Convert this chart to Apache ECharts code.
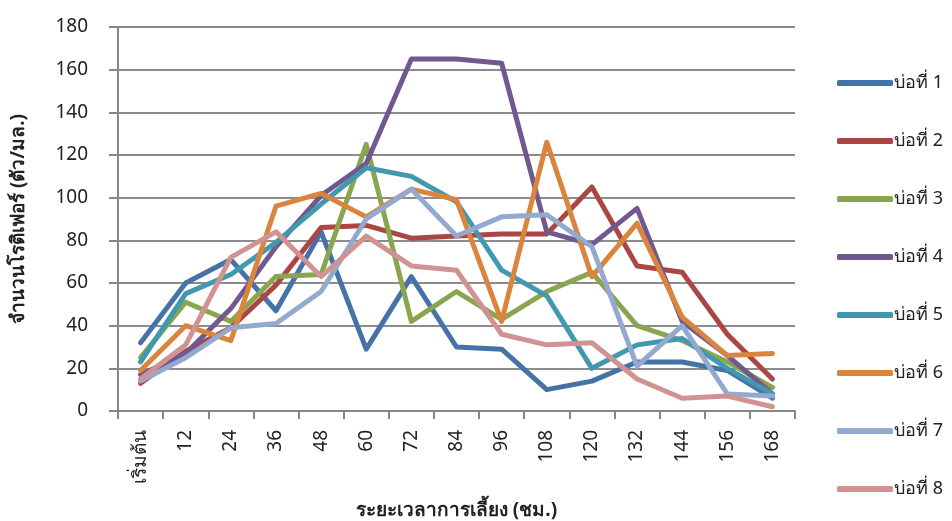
<!DOCTYPE html>
<html>
<head>
<meta charset="utf-8">
<script src="https://cdn.jsdelivr.net/npm/echarts@6/dist/echarts.min.js"></script>
<style>html,body{margin:0;padding:0;background:#fff}#c{width:952px;height:521px}</style>
</head>
<body>
<div id="c"></div>
<script>
const categories = ['เริ่มต้น','12','24','36','48','60','72','84','96','108','120','132','144','156','168'];
const seriesNames = ['บ่อที่ 1','บ่อที่ 2','บ่อที่ 3','บ่อที่ 4','บ่อที่ 5','บ่อที่ 6','บ่อที่ 7','บ่อที่ 8'];
const pond1 = [32, 60, 71, 47, 84, 29, 63, 30, 29, 10, 14, 23, 23, 19, 6];
const pond2 = [13, 28, 39, 59, 86, 87, 81, 82, 83, 83, 105, 68, 65, 36, 15];
const pond3 = [25, 51, 42, 63, 64, 125, 42, 56, 43, 56, 65, 40, 33, 23, 11];
const pond4 = [17, 27, 48, 77, 101, 116, 165, 165, 163, 84, 78, 95, 42, 26, 8];
const pond5 = [23, 55, 64, 79, 97, 114, 110, 98, 66, 54, 20, 31, 34, 20, 8];
const pond6 = [19, 40, 33, 96, 102, 91, 104, 99, 42, 126, 63, 88, 44, 26, 27];
const pond7 = [14, 25, 39, 41, 56, 90, 104, 82, 91, 92, 77, 21, 40, 8, 7];
const pond8 = [15, 31, 72, 84, 63, 82, 68, 66, 36, 31, 32, 15, 6, 7, 2];
const yTicks = [0, 20, 40, 60, 80, 100, 120, 140, 160, 180];

const allData = [pond1, pond2, pond3, pond4, pond5, pond6, pond7, pond8];
const colors = ['#4572A7','#AA4643','#89A54E','#71588F','#4198AF','#DB843D','#93A9CF','#D19392'];
const font = '"Noto Sans", "DejaVu Sans", sans-serif';

const chart = echarts.init(document.getElementById('c'));
chart.setOption({
  animation: false,
  color: colors,
  textStyle: { fontFamily: font },
  grid: { left: 118, right: 157, top: 27, bottom: 110, containLabel: false, outerBoundsMode: 'none' },
  legend: {
    orient: 'vertical',
    left: 832,
    top: 68,
    itemWidth: 56,
    itemHeight: 6,
    itemGap: 38,
    icon: 'roundRect',
    textStyle: { fontSize: 18, lineHeight: 20, color: '#222', padding: [0,0,0,-4] },
    data: seriesNames
  },
  xAxis: {
    type: 'category',
    data: categories,
    boundaryGap: true,
    name: 'ระยะเวลาการเลี้ยง (ชม.)',
    nameLocation: 'middle',
    nameGap: 90,
    nameTextStyle: { fontSize: 19, fontWeight: 'bold', color: '#222' },
    axisLine: { lineStyle: { color: '#868686', width: 2 } },
    axisTick: { show: true, length: 8, alignWithLabel: false, lineStyle: { color: '#868686', width: 2 } },
    axisLabel: { rotate: 90, fontSize: 19, color: '#222', margin: 19 },
    splitLine: { show: false }
  },
  yAxis: {
    type: 'value',
    min: yTicks[0],
    max: yTicks[yTicks.length - 1],
    interval: 20,
    name: 'จำนวนโรติเฟอร์ (ตัว/มล.)',
    nameLocation: 'middle',
    nameGap: 90,
    nameRotate: 90,
    nameTextStyle: { fontSize: 19, fontWeight: 'bold', color: '#222' },
    axisLine: { show: true, lineStyle: { color: '#868686', width: 2 } },
    axisTick: { show: true, length: 9, lineStyle: { color: '#868686', width: 2 } },
    axisLabel: { fontSize: 19, color: '#222', margin: 30 },
    splitLine: { show: true, lineStyle: { color: '#8c8c8c', width: 2 } }
  },
  series: allData.map((d, i) => ({
    name: seriesNames[i],
    type: 'line',
    data: d,
    symbol: 'none',
    lineStyle: { width: 5, color: colors[i], cap: 'round', join: 'round' },
    itemStyle: { color: colors[i] }
  }))
});
</script>
</body>
</html>
